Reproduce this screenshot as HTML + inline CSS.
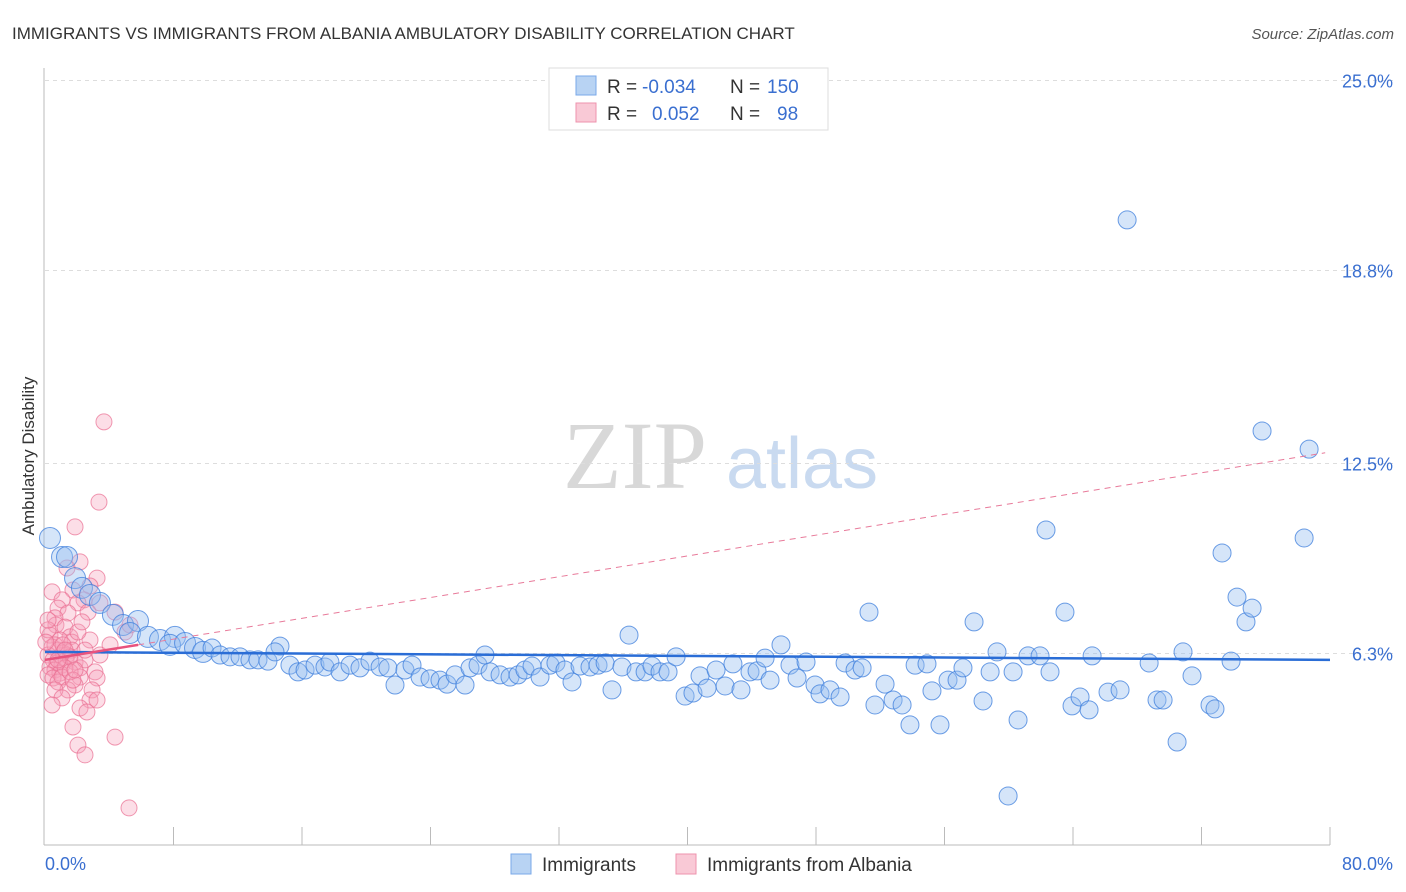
<!DOCTYPE html>
<html><head><meta charset="utf-8"><style>
body{margin:0;background:#fff;font-family:"Liberation Sans",sans-serif;}
svg{display:block}
</style></head><body>
<svg id="chart" width="1406" height="892" xmlns="http://www.w3.org/2000/svg">
<text x="12" y="39" font-size="17" fill="#333">IMMIGRANTS VS IMMIGRANTS FROM ALBANIA AMBULATORY DISABILITY CORRELATION CHART</text>
<text x="1394" y="39" font-size="15" fill="#555" text-anchor="end" font-style="italic">Source: ZipAtlas.com</text>
<g>
<text x="635" y="488" font-size="96" fill="#d8d8d8" font-family="Liberation Serif,serif" text-anchor="middle">ZIP</text>
<text x="802" y="488" font-size="72" fill="#c9daf0" text-anchor="middle">atlas</text>
</g>
<g id="grid"></g>
<g id="axes"></g>
<g id="pink"></g>
<g id="blue"></g>
<g id="trend"></g>
<text transform="translate(34,456) rotate(-90)" font-size="17" fill="#333" text-anchor="middle">Ambulatory Disability</text>
<g>
<rect x="549" y="68" width="279" height="62" fill="#fff" stroke="#ddd"/>
<rect x="576" y="76" width="20" height="19" fill="#b8d3f3" stroke="#7aa8e8"/>
<text x="607" y="93" font-size="19" fill="#333">R =</text><text x="642" y="93" font-size="19" fill="#3a6fd0">-0.034</text>
<text x="730" y="93" font-size="19" fill="#333">N =</text><text x="767" y="93" font-size="19" fill="#3a6fd0">150</text>
<rect x="576" y="103" width="20" height="19" fill="#f9c9d6" stroke="#ee93ad"/>
<text x="607" y="120" font-size="19" fill="#333">R =</text><text x="652" y="120" font-size="19" fill="#3a6fd0">0.052</text>
<text x="730" y="120" font-size="19" fill="#333">N =</text><text x="777" y="120" font-size="19" fill="#3a6fd0">98</text>
</g>
<g>
<rect x="511" y="854" width="20" height="20" fill="#b8d3f3" stroke="#7aa8e8"/>
<text x="542" y="871" font-size="19" fill="#333">Immigrants</text>
<rect x="676" y="854" width="20" height="20" fill="#f9c9d6" stroke="#ee93ad"/>
<text x="707" y="871" font-size="19" fill="#333">Immigrants from Albania</text>
</g>
</svg>
<script>
const yTicks=[6.3,12.5,18.8,25.0];
const yTickLabels=["6.3%","12.5%","18.8%","25.0%"];
const xEndLabels=["0.0%","80.0%"];
const blueX=[0.31,1.06,1.37,1.87,2.30,2.80,3.42,4.23,4.86,5.79,5.29,6.41,7.16,8.09,7.78,8.72,9.34,9.84,10.40,10.90,11.52,12.14,12.76,13.26,13.88,14.63,14.32,15.25,15.75,16.19,16.81,17.43,17.74,18.37,18.99,19.61,20.23,20.86,21.35,21.79,22.41,22.85,23.35,23.97,24.59,25.03,25.53,26.15,26.46,26.96,27.39,27.71,28.33,28.95,29.45,29.88,30.32,30.82,31.44,31.81,32.37,32.81,33.31,33.93,34.43,34.87,35.30,35.92,36.36,36.80,37.36,37.79,38.29,38.79,39.29,39.85,40.34,40.78,41.22,41.78,42.34,42.83,43.33,43.89,44.33,44.83,45.14,45.82,46.38,46.82,47.38,47.94,48.25,48.87,49.50,49.81,50.43,50.87,51.30,51.67,52.30,52.80,53.36,53.85,54.17,54.91,55.22,55.72,56.22,56.78,57.15,57.84,58.40,58.84,59.27,59.96,60.27,60.58,61.20,61.95,62.32,62.57,63.50,63.94,64.44,65.00,65.19,66.18,66.93,67.37,68.74,69.23,69.61,70.48,70.85,71.41,72.53,72.84,73.28,73.84,74.21,74.77,75.15,75.77,78.39,78.70];
const blueY=[10.07,9.45,9.45,8.76,8.44,8.21,7.95,7.56,7.23,7.36,6.97,6.84,6.74,6.84,6.58,6.64,6.48,6.35,6.48,6.25,6.19,6.19,6.09,6.09,6.05,6.54,6.35,5.92,5.70,5.76,5.92,5.86,6.02,5.70,5.92,5.83,6.05,5.86,5.83,5.27,5.76,5.92,5.53,5.47,5.43,5.30,5.60,5.27,5.83,5.92,6.25,5.70,5.60,5.53,5.60,5.76,5.89,5.53,5.92,5.99,5.76,5.37,5.89,5.86,5.92,5.99,5.11,5.86,6.90,5.70,5.70,5.89,5.70,5.70,6.19,4.91,5.01,5.57,5.17,5.76,5.24,5.96,5.11,5.70,5.73,6.15,5.43,6.58,5.92,5.50,6.02,5.27,4.98,5.11,4.88,5.99,5.76,5.83,7.65,4.62,5.30,4.78,4.62,3.97,5.92,5.96,5.08,3.97,5.43,5.43,5.83,7.33,4.75,5.70,6.35,1.65,5.70,4.13,6.22,6.22,10.33,5.70,7.65,4.59,4.88,4.46,6.22,5.04,5.11,20.45,5.99,4.78,4.78,3.41,6.35,5.57,4.62,4.49,9.58,6.05,8.14,7.33,7.78,13.56,10.07,12.97];
const pinkX=[3.67,3.36,1.87,2.18,1.37,3.24,2.80,0.44,1.74,1.06,0.81,2.43,3.42,2.05,1.43,0.62,2.68,0.68,1.25,1.56,0.31,0.93,1.68,2.80,0.44,0.81,1.12,1.37,1.68,0.19,0.50,0.75,1.06,1.31,1.56,1.87,0.31,0.62,0.93,1.25,0.19,0.50,0.81,1.06,2.18,2.49,3.11,3.24,2.93,2.80,2.18,1.87,1.43,0.62,1.06,0.44,2.18,2.61,3.24,1.74,4.36,2.05,2.49,5.23,2.05,2.30,0.19,0.62,1.12,0.05,0.19,1.56,1.74,0.81,1.25,1.87,2.49,3.42,4.05,4.98,4.36,5.29];
const pinkY=[13.86,11.24,10.43,9.29,9.09,8.76,8.50,8.31,8.37,8.05,7.78,8.05,7.95,7.95,7.62,7.46,7.65,7.23,7.16,6.84,6.90,6.74,6.67,6.74,6.51,6.41,6.32,6.25,6.41,6.25,6.09,5.99,5.92,6.09,6.19,6.02,5.86,5.76,5.66,5.83,5.60,5.50,5.37,5.53,5.83,6.09,5.70,5.50,5.11,4.78,5.53,5.27,5.11,5.11,4.85,4.62,4.52,4.39,4.78,3.90,3.57,3.31,2.99,1.26,7.00,7.33,7.07,6.58,6.58,6.67,7.39,5.70,5.43,6.09,6.41,5.76,6.41,6.25,6.58,7.00,7.65,7.23];
const blueTrend=[6.35,6.09];   // value at x=0, x=80
const pinkTrend=[6.09,12.85];  // value at x=0, x=79.7
const pinkTrendEnd=79.7, pinkSolidEnd=5.8;

const X0=45,X1=1330,YB=846.5,YS=191.5/6.25;
const sx=v=>X0+(v/80)*(X1-X0);
const sy=v=>YB-v*YS;
const NS="http://www.w3.org/2000/svg";
function mk(tag,attrs,parent){const e=document.createElementNS(NS,tag);for(const k in attrs)e.setAttribute(k,attrs[k]);parent.appendChild(e);return e;}
const grid=document.getElementById('grid'),axes=document.getElementById('axes');
yTicks.forEach((t,i)=>{
  const l=mk('line',{x1:X0,x2:1394,y1:sy(t),y2:sy(t),stroke:'#ddd','stroke-dasharray':'4,4'},grid);
  
  
  const tx=mk('text',{x:1393,y:sy(t)+7,'font-size':18,fill:'#3a6fd0','text-anchor':'end'},axes);
  tx.textContent=yTickLabels[i];
  
  
});
mk('line',{x1:X0-1,x2:X0-1,y1:68,y2:845,stroke:'#bbb'},axes);
mk('line',{x1:X0-1,x2:X1,y1:845,y2:845,stroke:'#bbb'},axes);
for(let i=1;i<=10;i++){const x=sx(i*8);mk('line',{x1:x,x2:x,y1:827,y2:845,stroke:'#bbb'},axes);}
const xl0=mk('text',{x:45,y:870,'font-size':18,fill:'#3a6fd0'},axes);xl0.textContent=xEndLabels[0];


const xl1=mk('text',{x:1393,y:870,'font-size':18,fill:'#3a6fd0','text-anchor':'end'},axes);xl1.textContent=xEndLabels[1];


const pg=document.getElementById('pink');
pinkX.forEach((v,i)=>{const c=mk('circle',{cx:sx(v),cy:sy(pinkY[i]),r:8,fill:'rgba(246,160,185,0.35)',stroke:'rgba(234,110,145,0.7)','stroke-width':1},pg);

});
const bg=document.getElementById('blue');
blueX.forEach((v,i)=>{const c=mk('circle',{cx:sx(v),cy:sy(blueY[i]),r:v<10?10.5:9,fill:'rgba(150,190,240,0.4)',stroke:'rgba(60,125,220,0.75)','stroke-width':1},bg);

});
const tg=document.getElementById('trend');
const bl=mk('line',{x1:sx(0),y1:sy(blueTrend[0]),x2:sx(80),y2:sy(blueTrend[1]),stroke:'#2a6dd6','stroke-width':2.5},tg);


const pf=x=>pinkTrend[0]+(pinkTrend[1]-pinkTrend[0])*x/pinkTrendEnd;
const pd=mk('line',{x1:sx(pinkSolidEnd),y1:sy(pf(pinkSolidEnd)),x2:sx(pinkTrendEnd),y2:sy(pf(pinkTrendEnd)),stroke:'#e87a9a','stroke-width':1,'stroke-dasharray':'6,5'},tg);


const ps=mk('line',{x1:sx(0),y1:sy(pf(0)),x2:sx(pinkSolidEnd),y2:sy(pf(pinkSolidEnd)),stroke:'#e8537e','stroke-width':2.5},tg);


</script>
</body></html>
